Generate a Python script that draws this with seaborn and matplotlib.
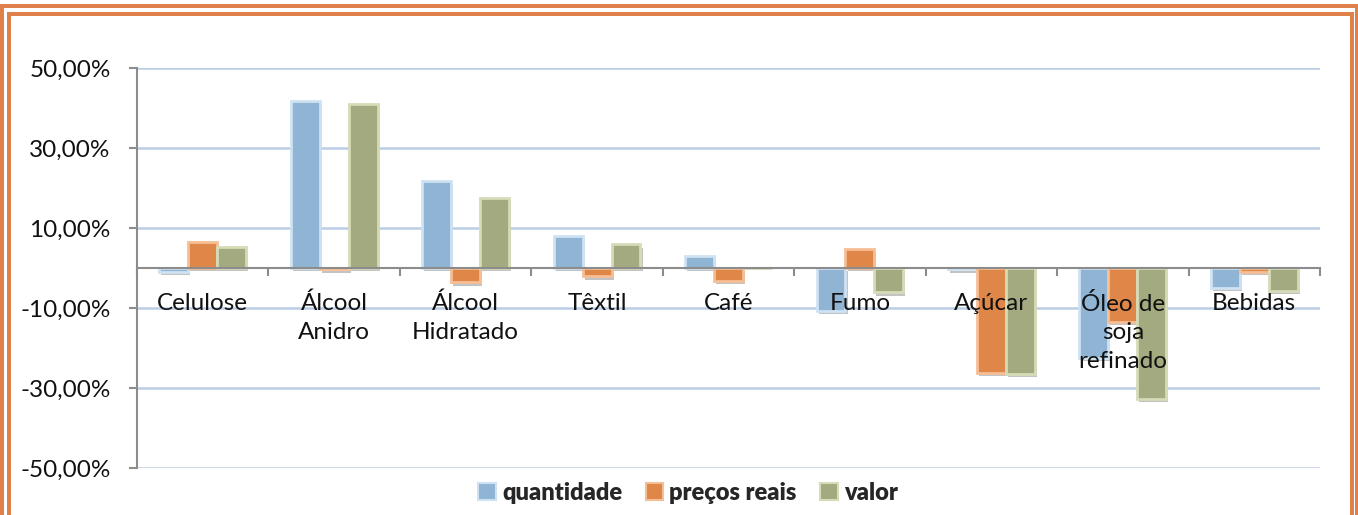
import matplotlib
matplotlib.use("Agg")
import matplotlib.pyplot as plt
import matplotlib.patheffects as pe
import seaborn as sns
import pandas as pd
import numpy as np
from matplotlib.patches import Rectangle, Patch

categories = ["Celulose", "Álcool\nAnidro", "Álcool\nHidratado", "Têxtil", "Café",
              "Fumo", "Açúcar", "Óleo de\nsoja\nrefinado", "Bebidas"]
series = ["quantidade", "preços reais", "valor"]
quantidade = [-1.0, 41.8, 21.8, 8.0, 3.0, -10.7, -0.3, -22.4, -4.9]
precos_reais = [6.5, -0.3, -3.6, -2.1, -3.2, 4.7, -26.2, -13.5, -0.9]
valor = [5.3, 41.0, 17.5, 5.9, 0.0, -6.1, -26.4, -32.7, -5.7]
yticks = [-50, -30, -10, 10, 30, 50]
ytick_labels = ["-50,00%", "-30,00%", "-10,00%", "10,00%", "30,00%", "50,00%"]
colors = ["#8FB4D4", "#DF8649", "#A3AA7F"]
edge_colors = ["#CFE2F3", "#F6BE94", "#D6DBB8"]

df = pd.DataFrame({
    "categoria": categories * 3,
    "serie": [series[0]] * 9 + [series[1]] * 9 + [series[2]] * 9,
    "valor": quantidade + precos_reais + valor,
})

sns.set_theme(style="white")
plt.rcParams["font.family"] = ["Lato", "DejaVu Sans"]

fig = plt.figure(figsize=(13.58, 5.15), dpi=100)
ax = fig.add_axes([137 / 1358, 1 - 468 / 515, (1320 - 137) / 1358, 400 / 515])

sns.barplot(data=df, x="categoria", y="valor", hue="serie", palette=colors,
            width=0.66, gap=0, ax=ax, legend=False, saturation=1)

# bevel-like edges and soft shadow
for i, cont in enumerate(ax.containers):
    for p in cont:
        p.set_edgecolor(edge_colors[i])
        p.set_linewidth(2.0)
        p.set_path_effects([pe.SimplePatchShadow(offset=(1.5, -2.5), shadow_rgbFace="#555555", alpha=0.35),
                            pe.Normal()])

ax.set_ylim(-50, 50)
ax.set_xlim(-0.5, len(categories) - 0.5)
ax.set_yticks(yticks)
ax.set_yticklabels(ytick_labels, fontsize=17.5, color="#111111")
ax.yaxis.grid(True, color="#BACDE4", linewidth=1.8)
ax.set_axisbelow(True)
ax.set_xlabel("")
ax.set_ylabel("")

for s in ["top", "right"]:
    ax.spines[s].set_visible(False)
ax.spines["left"].set_color("#8C8C8C")
ax.spines["left"].set_linewidth(1.5)
ax.spines["bottom"].set_position(("data", 0))
ax.spines["bottom"].set_color("#8C8C8C")
ax.spines["bottom"].set_linewidth(1.5)
ax.spines["bottom"].set_zorder(5)

ax.set_xticks(np.arange(-0.5, len(categories), 1.0))
ax.set_xticklabels([])
ax.tick_params(axis="x", direction="out", length=6, width=1.5, color="#8C8C8C", bottom=True)
ax.tick_params(axis="y", direction="out", length=6, width=1.5, color="#8C8C8C", left=True, pad=13)

for i, c in enumerate(categories):
    ax.text(i, -6.2, c, ha="center", va="top", fontsize=17.5, color="#111111",
            linespacing=1.45, zorder=6)

handles = [Patch(facecolor=colors[i], edgecolor=edge_colors[i], linewidth=1.5) for i in range(3)]
leg = fig.legend(handles, series, loc="center", bbox_to_anchor=(688 / 1358, 1 - 493 / 515),
                 ncol=3, frameon=False, handlelength=0.75, handleheight=0.75,
                 handletextpad=0.25, columnspacing=1.0,
                 prop={"weight": "heavy", "size": 17, "family": ["Lato", "DejaVu Sans"]})

# orange double border
W, H = 1358, 515
oc = "#E0804A"
fig.patches.append(Rectangle((2 / W, -0.1), (1357 - 2) / W, 1.1 - 6 / H, transform=fig.transFigure,
                             fill=False, edgecolor=oc, linewidth=4 * 72 / 100, zorder=10))
fig.patches.append(Rectangle((9 / W, -0.1), (1352 - 9) / W, 1.1 - 14 / H, transform=fig.transFigure,
                             fill=False, edgecolor=oc, linewidth=4 * 72 / 100, zorder=10))

fig.savefig("out.png", dpi=100)
